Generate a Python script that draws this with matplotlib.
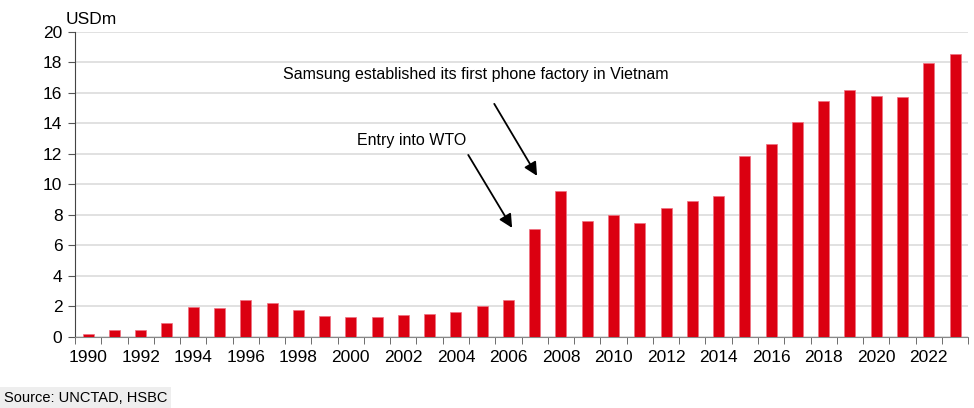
import numpy as np
import matplotlib
matplotlib.use("Agg")
import matplotlib.pyplot as plt

plt.rcParams['font.family'] = ['Liberation Sans', 'DejaVu Sans']

# 데이터
years = list(range(1990, 2024))
values = [0.2, 0.45, 0.45, 0.94, 1.97, 1.87, 2.45, 2.22, 1.76, 1.4,
          1.31, 1.31, 1.42, 1.53, 1.64, 2.0, 2.45, 7.05, 9.6, 7.62,
          7.97, 7.5, 8.43, 8.92, 9.25, 11.84, 12.65, 14.08, 15.48, 16.2,
          15.82, 15.72, 17.96, 18.55]
y_ticks = [0, 2, 4, 6, 8, 10, 12, 14, 16, 18, 20]

red = '#DB0011'

fig = plt.figure(figsize=(9.74, 4.08), dpi=100)
ax = fig.add_axes([0.077, 0.174, 0.917, 0.748])

x = np.arange(len(years))
ax.bar(x, values, width=0.42, color=red, edgecolor='#f07080', linewidth=0.5, zorder=3)

ax.set_xlim(-0.5, len(years) - 0.5)
ax.set_ylim(0, 20)
ax.set_yticks(y_ticks)
ax.set_yticklabels([str(v) for v in y_ticks], fontsize=12.5)
ax.grid(axis='y', color='#dcdcdc', linewidth=1.2, zorder=0)

# x축: 짝수 해만 라벨, 경계마다 눈금
ax.set_xticks(x[::2])
ax.set_xticklabels([str(y) for y in years[::2]], fontsize=12.5)
ax.set_xticks(np.arange(-0.5, len(years), 1.0), minor=True)
ax.tick_params(axis='x', which='major', length=0, pad=9)
ax.tick_params(axis='x', which='minor', length=5, direction='out', color='#555555')
ax.tick_params(axis='y', length=5, direction='out', color='#555555', pad=4)

for s in ['top', 'right']:
    ax.spines[s].set_visible(False)
ax.spines['left'].set_color('#444444')
ax.spines['bottom'].set_color('#888888')

fig.text(0.067, 0.935, 'USDm', fontsize=12.5, ha='left', va='bottom')

# 주석
arrow = dict(arrowstyle='-|>', color='black', lw=1.3, mutation_scale=20,
             shrinkA=0, shrinkB=0)
ax.text(14.77, 17.18, 'Samsung established its first phone factory in Vietnam',
        fontsize=11.5, ha='center', va='center')
ax.annotate('', xy=(17.09, 10.56), xytext=(15.46, 15.28), arrowprops=arrow)
ax.text(12.3, 12.85, 'Entry into WTO', fontsize=11.5, ha='center', va='center')
ax.annotate('', xy=(16.14, 7.15), xytext=(14.47, 11.93), arrowprops=arrow)

fig.text(0.004, 0.025, 'Source: UNCTAD, HSBC', fontsize=10.5, ha='left', va='center',
         bbox=dict(boxstyle='square,pad=0.25', facecolor='#eeeeee', edgecolor='none'))

fig.savefig('out.png', dpi=100)
